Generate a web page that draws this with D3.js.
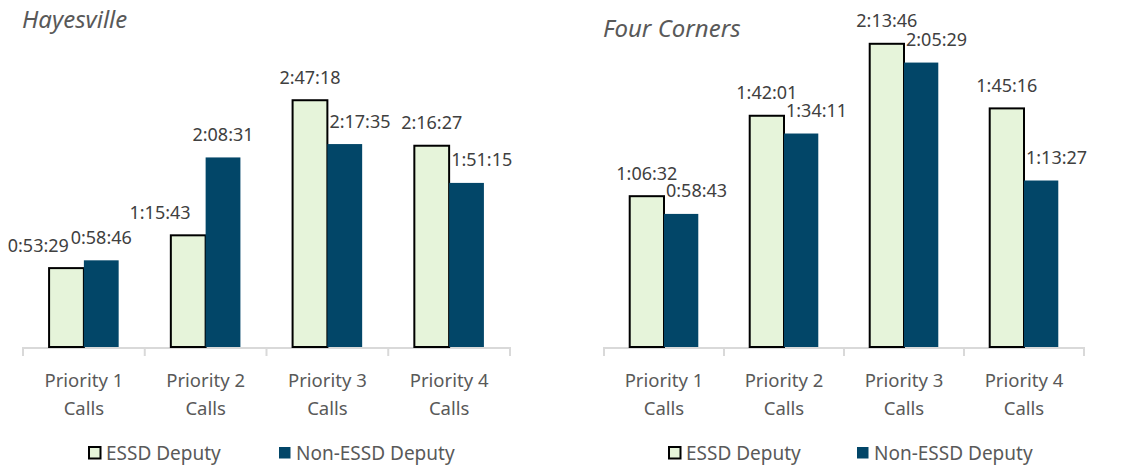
<!DOCTYPE html>
<html>
<head>
<meta charset="utf-8">
<script src="https://cdn.jsdelivr.net/npm/d3@7"></script>
<style>
  body { margin: 0; background: #fff; }
  text { font-family: "Noto Sans", sans-serif; }
</style>
</head>
<body>
<script>
const width = 1147,
  height = 465;

const categories = ['Priority 1 Calls', 'Priority 2 Calls', 'Priority 3 Calls', 'Priority 4 Calls'];
const series = ['ESSD Deputy', 'Non-ESSD Deputy'];

// response times as h:mm:ss
const hayesvilleEssd = ['0:53:29', '1:15:43', '2:47:18', '2:16:27'];
const hayesvilleNon = ['0:58:46', '2:08:31', '2:17:35', '1:51:15'];
const fourCornersEssd = ['1:06:32', '1:42:01', '2:13:46', '1:45:16'];
const fourCornersNon = ['0:58:43', '1:34:11', '2:05:29', '1:13:27'];

const colors = ['#e6f4da', '#024668'];

const toSec = s => s.split(':').reduce((a, v) => a * 60 + +v, 0);

const svg = d3.select('body').append('svg')
  .attr('width', width)
  .attr('height', height);

function drawChart(opts) {
  const { title, titleY, essd, non, x0Range, yMax, yTop, legendX } = opts;
  const baseY = 347;

  const x0 = d3.scaleBand()
    .domain(categories)
    .range(x0Range)
    .paddingInner(0)
    .paddingOuter(0);

  const x1 = d3.scaleBand()
    .domain(series)
    .range([0, x0.bandwidth()])
    .paddingInner(0)
    .paddingOuter(0.75);

  const y = d3.scaleLinear()
    .domain([0, yMax])
    .range([baseY, yTop]);

  const g = svg.append('g');

  g.append('text')
    .attr('x', x0Range[0] - 1)
    .attr('y', titleY)
    .attr('fill', '#595959')
    .attr('font-style', 'italic')
    .attr('font-size', 24)
    .text(title);

  const rows = categories.map((c, i) => ({
    cat: c,
    vals: [
      { s: series[0], label: essd[i], v: toSec(essd[i]) },
      { s: series[1], label: non[i], v: toSec(non[i]) }
    ]
  }));

  // axis line + ticks
  const axis = g.append('g').attr('stroke', '#d9d9d9').attr('stroke-width', 2);
  axis.append('line')
    .attr('x1', x0Range[0]).attr('x2', x0Range[1])
    .attr('y1', baseY + 1).attr('y2', baseY + 1);
  axis.selectAll('.tick')
    .data(categories.map(c => x0(c)).concat([x0Range[1]]))
    .enter().append('line')
    .attr('x1', d => d).attr('x2', d => d)
    .attr('y1', baseY).attr('y2', baseY + 9);

  const grp = g.selectAll('.grp')
    .data(rows)
    .enter().append('g')
    .attr('transform', d => `translate(${x0(d.cat)},0)`);

  grp.selectAll('rect')
    .data(d => d.vals)
    .enter().append('rect')
    .attr('x', d => x1(d.s))
    .attr('y', d => y(d.v))
    .attr('width', x1.bandwidth())
    .attr('height', d => baseY - y(d.v))
    .attr('fill', (d, i) => colors[i])
    .attr('stroke', (d, i) => i === 0 ? '#000' : 'none')
    .attr('stroke-width', 2);

  // data labels, nudged off the neighbouring taller bar
  grp.each(function (d) {
    const sel = d3.select(this);
    const [a, b] = d.vals;
    const ax = x1(a.s), bx = x1(b.s), bw = x1.bandwidth();
    const mk = (v, cx) => sel.append('text')
      .attr('x', cx)
      .attr('y', y(v.v) - 16.5)
      .attr('text-anchor', 'middle')
      .attr('fill', '#404040')
      .attr('font-size', 18)
      .text(v.label);
    const ta = mk(a, ax + bw / 2);
    const tb = mk(b, bx + bw / 2);
    const wa = ta.node().getComputedTextLength();
    const wb = tb.node().getComputedTextLength();
    if (a.v > b.v) {
      const left = Math.max(bx + bw / 2 - wb / 2, ax + bw + 2);
      tb.attr('x', left + wb / 2);
    } else {
      const right = Math.min(ax + bw / 2 + wa / 2, bx - 15);
      ta.attr('x', right - wa / 2);
    }
  });

  // category labels on two lines
  grp.append('text')
    .attr('x', x0.bandwidth() / 2)
    .attr('y', 387)
    .attr('text-anchor', 'middle')
    .attr('fill', '#595959')
    .attr('font-size', 18.5)
    .selectAll('tspan')
    .data(d => [d.cat.replace(' Calls', ''), 'Calls'])
    .enter().append('tspan')
    .attr('x', x0.bandwidth() / 2)
    .attr('dy', (d, i) => i === 0 ? 0 : 28)
    .text(d => d);

  // legend
  const lg = g.append('g');
  series.forEach((s, i) => {
    const lx = legendX[i];
    lg.append('rect')
      .attr('x', lx + 1)
      .attr('y', 447)
      .attr('width', 11.5)
      .attr('height', 11.5)
      .attr('fill', colors[i])
      .attr('stroke', i === 0 ? '#000' : 'none')
      .attr('stroke-width', 2);
    lg.append('text')
      .attr('x', lx + 18)
      .attr('y', 459.5)
      .attr('fill', '#595959')
      .attr('font-size', 19)
      .text(s);
  });
}

drawChart({
  title: 'Hayesville',
  titleY: 28,
  essd: hayesvilleEssd,
  non: hayesvilleNon,
  x0Range: [23, 510],
  yMax: 12000,
  yTop: 52,
  legendX: [88, 278]
});

drawChart({
  title: 'Four Corners',
  titleY: 37,
  essd: fourCornersEssd,
  non: fourCornersNon,
  x0Range: [604, 1084],
  yMax: 9000,
  yTop: 7,
  legendX: [668, 856]
});
</script>
</body>
</html>
